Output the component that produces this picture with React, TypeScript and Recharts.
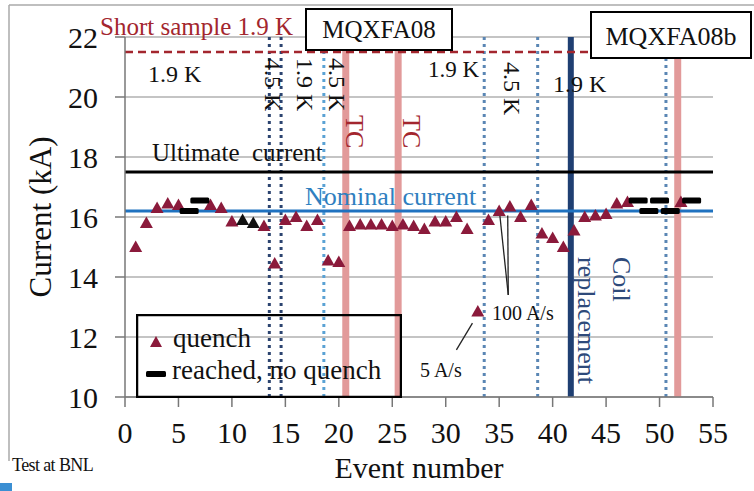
import React from "react";
import { ComposedChart, Scatter, XAxis, YAxis, CartesianGrid, ReferenceLine, Legend, Label } from "recharts";

const FONT = "Liberation Serif, DejaVu Serif, Times New Roman, serif";

const xTicks = [0, 5, 10, 15, 20, 25, 30, 35, 40, 45, 50, 55];
const yTicks = [10, 12, 14, 16, 18, 20, 22];

// quench events (red triangles)
const quenchEvents = [1, 2, 3, 4, 5, 8, 9, 10, 13, 14, 15, 16, 17, 18, 19, 20, 21, 22, 23, 24, 25, 26, 27, 28, 29, 30, 31, 32, 33, 34, 35, 36, 37, 38, 39, 40, 41, 42, 43, 44, 45, 46, 47, 52];
const quenchCurrents = [15.0, 15.8, 16.3, 16.45, 16.4, 16.4, 16.3, 15.85, 15.7, 14.45, 15.9, 16.0, 15.7, 15.9, 14.55, 14.5, 15.7, 15.75, 15.75, 15.75, 15.7, 15.75, 15.7, 15.6, 15.85, 15.85, 16.0, 15.6, 12.85, 15.9, 16.2, 16.35, 16.0, 16.4, 15.45, 15.3, 15.0, 15.55, 16.0, 16.05, 16.1, 16.45, 16.5, 16.5];

// black triangles
const otherQuenchEvents = [11, 12];
const otherQuenchCurrents = [15.9, 15.8];

// reached, no quench (black dashes)
const noQuenchEvents = [6, 7, 48, 49, 50, 51, 53];
const noQuenchCurrents = [16.2, 16.55, 16.55, 16.2, 16.55, 16.2, 16.55];

const shortSample = 21.5;
const ultimateCurrent = 17.5;
const nominalCurrent = 16.2;

const darkDotted = [13.5, 14.6];
const lightDotted = [18.6];
const blueDotted = [33.6, 38.6, 50.6];
const thermalCycles = [20.65, 25.55, 51.7];
const coilReplacement = 41.7;

const quenchData = quenchEvents.map((x, i) => ({ x, y: quenchCurrents[i] }));
const otherData = otherQuenchEvents.map((x, i) => ({ x, y: otherQuenchCurrents[i] }));
const noQuenchData = noQuenchEvents.map((x, i) => ({ x, y: noQuenchCurrents[i] }));

const RED = "#8b1a3b";

const Triangle = (p: any) => {
  const { cx, cy, fill } = p;
  if (cx == null || cy == null) return null;
  return <polygon points={`${cx},${cy - 6.5} ${cx - 6.5},${cy + 5} ${cx + 6.5},${cy + 5}`} fill={fill} />;
};

const Dash = (p: any) => {
  const { cx, cy } = p;
  if (cx == null || cy == null) return null;
  return <rect x={cx - 9.5} y={cy - 3} width={19} height={6} rx={1.5} fill="#000" />;
};

const LegendBox = () => (
  <svg width={266} height={84} style={{ display: "block" }}>
    <rect x={1} y={1} width={264} height={82} fill="none" stroke="#000" strokeWidth={2.5} />
    <polygon points="20,22 14,33 26,33" fill={RED} />
    <text x={37} y={33} fontFamily={FONT} fontSize={27} fill="#111">quench</text>
    <rect x={10} y={57} width={20} height={6} rx={1.5} fill="#000" />
    <text x={36} y={65} fontFamily={FONT} fontSize={27} fill="#111">reached, no quench</text>
  </svg>
);

const vText = (x: number, y: number, s: string, size: number, fill: string) => (
  <text x={x} y={y} transform={`rotate(90 ${x} ${y})`} fontFamily={FONT} fontSize={size} fill={fill}>{s}</text>
);

export default function App() {
  return (
    <div style={{ position: "absolute", left: 0, top: 0, width: 754, height: 491, background: "#fff", fontFamily: FONT }}>
      <ComposedChart width={754} height={491} margin={{ top: 37, right: 41, bottom: 0, left: 0 }}>
        <CartesianGrid vertical={false} stroke="#8a8a8a" strokeWidth={1.2} />
        <XAxis
          type="number"
          dataKey="x"
          domain={[0, 55]}
          ticks={xTicks}
          interval={0}
          height={94}
          tickSize={10}
          tickMargin={15}
          tick={{ fontSize: 30, fill: "#111", fontFamily: FONT }}
          axisLine={{ stroke: "#777", strokeWidth: 1.5 }}
          tickLine={{ stroke: "#777", strokeWidth: 1.5 }}
        >
          <Label value="Event number" position="insideBottom" offset={13} style={{ fontSize: 30, fill: "#111", fontFamily: FONT }} />
        </XAxis>
        <YAxis
          type="number"
          dataKey="y"
          domain={[10, 22]}
          ticks={yTicks}
          interval={0}
          width={125}
          tickSize={10}
          tickMargin={17}
          tick={{ fontSize: 30, fill: "#111", fontFamily: FONT }}
          axisLine={{ stroke: "#777", strokeWidth: 1.5 }}
          tickLine={{ stroke: "#777", strokeWidth: 1.5 }}
        >
          <Label value="Current (kA)" angle={-90} position="insideLeft" offset={40} style={{ fontSize: 31, fill: "#111", fontFamily: FONT, textAnchor: "middle" }} />
        </YAxis>

        {thermalCycles.map((x) => (
          <ReferenceLine key={"tc" + x} x={x} stroke="#e29a9a" strokeWidth={7} />
        ))}
        {darkDotted.map((x) => (
          <ReferenceLine key={"dd" + x} x={x} stroke="#2c4470" strokeWidth={3} strokeDasharray="3 4" />
        ))}
        {lightDotted.map((x) => (
          <ReferenceLine key={"ld" + x} x={x} stroke="#5aa2d4" strokeWidth={3} strokeDasharray="3 4" />
        ))}
        {blueDotted.map((x) => (
          <ReferenceLine key={"bd" + x} x={x} stroke="#5a86b4" strokeWidth={3} strokeDasharray="3 4" />
        ))}
        <ReferenceLine x={coilReplacement} stroke="#1f3f72" strokeWidth={6} />

        <ReferenceLine y={shortSample} stroke="#a3262e" strokeWidth={2.5} strokeDasharray="8 5" />
        <ReferenceLine y={ultimateCurrent} stroke="#000" strokeWidth={3} />
        <ReferenceLine y={nominalCurrent} stroke="#1f72c0" strokeWidth={3} />

        <ReferenceLine segment={[{ x: 35.85, y: 13.4 }, { x: 35.05, y: 16.1 }]} stroke="#222" strokeWidth={1.3} />
        <ReferenceLine segment={[{ x: 35.85, y: 13.4 }, { x: 35.8, y: 16.05 }]} stroke="#222" strokeWidth={1.3} />
        <ReferenceLine segment={[{ x: 31.0, y: 11.57 }, { x: 32.5, y: 12.46 }]} stroke="#222" strokeWidth={1.3} />

        <Scatter name="quench" data={quenchData} fill={RED} shape={Triangle} isAnimationActive={false} />
        <Scatter name="quench (other)" data={otherData} fill="#111" shape={Triangle} isAnimationActive={false} legendType="none" />
        <Scatter name="reached, no quench" data={noQuenchData} fill="#000" shape={Dash} isAnimationActive={false} />

        <Legend
          layout="vertical"
          align="center"
          verticalAlign="middle"
          content={() => <LegendBox />}
          wrapperStyle={{ position: "absolute", left: 136, top: 314, width: 266, height: 84 }}
        />
      </ComposedChart>

      <svg width={754} height={491} style={{ position: "absolute", left: 0, top: 0, pointerEvents: "none" }}>
        <line x1={9} y1={5} x2={754} y2={5} stroke="#aaa" strokeWidth={1.5} />
        <line x1={9} y1={5} x2={9} y2={461} stroke="#aaa" strokeWidth={1.5} />
        <rect x={0} y={483} width={12} height={8} fill="#3b8fd3" />

        <text x={100} y={35} fontFamily={FONT} fontSize={25} fill="#a3262e">Short sample 1.9 K</text>

        <rect x={306} y={9} width={146} height={41} fill="#fff" stroke="#000" strokeWidth={2} />
        <text x={379} y={38} textAnchor="middle" fontFamily={FONT} fontSize={25} fill="#111">MQXFA08</text>
        <rect x={591} y={12} width={160} height={46} fill="#fff" stroke="#000" strokeWidth={2} />
        <text x={671} y={45} textAnchor="middle" fontFamily={FONT} fontSize={26} fill="#111">MQXFA08b</text>

        <text x={148} y={82} fontFamily={FONT} fontSize={24} fill="#111">1.9 K</text>
        <text x={428} y={77} fontFamily={FONT} fontSize={23} fill="#111">1.9 K</text>
        <text x={553} y={92} fontFamily={FONT} fontSize={24} fill="#111">1.9 K</text>
        {vText(265, 58, "4.5 K", 24, "#111")}
        {vText(297, 58, "1.9 K", 24, "#111")}
        {vText(329, 58, "4.5 K", 24, "#111")}
        {vText(504, 62, "4.5 K", 24, "#111")}
        {vText(346, 115, "TC", 26, "#a3262e")}
        {vText(403, 115, "TC", 26, "#a3262e")}

        <text x={152} y={161} fontFamily={FONT} fontSize={25} fill="#111" xmlSpace="preserve">Ultimate  current</text>
        <text x={305} y={205} fontFamily={FONT} fontSize={26} fill="#2f7fc0">Nominal current</text>

        {vText(578, 257, "replacement", 26, "#2e4a7a")}
        {vText(613, 257, "Coil", 26, "#2e4a7a")}

        <text x={492} y={320} fontFamily={FONT} fontSize={20} fill="#111">100 A/s</text>
        <text x={420} y={377} fontFamily={FONT} fontSize={20} fill="#111">5 A/s</text>

        <text x={12} y={471} fontFamily={FONT} fontSize={18} fill="#111" letterSpacing={-0.6}>Test at BNL</text>
      </svg>
    </div>
  );
}
